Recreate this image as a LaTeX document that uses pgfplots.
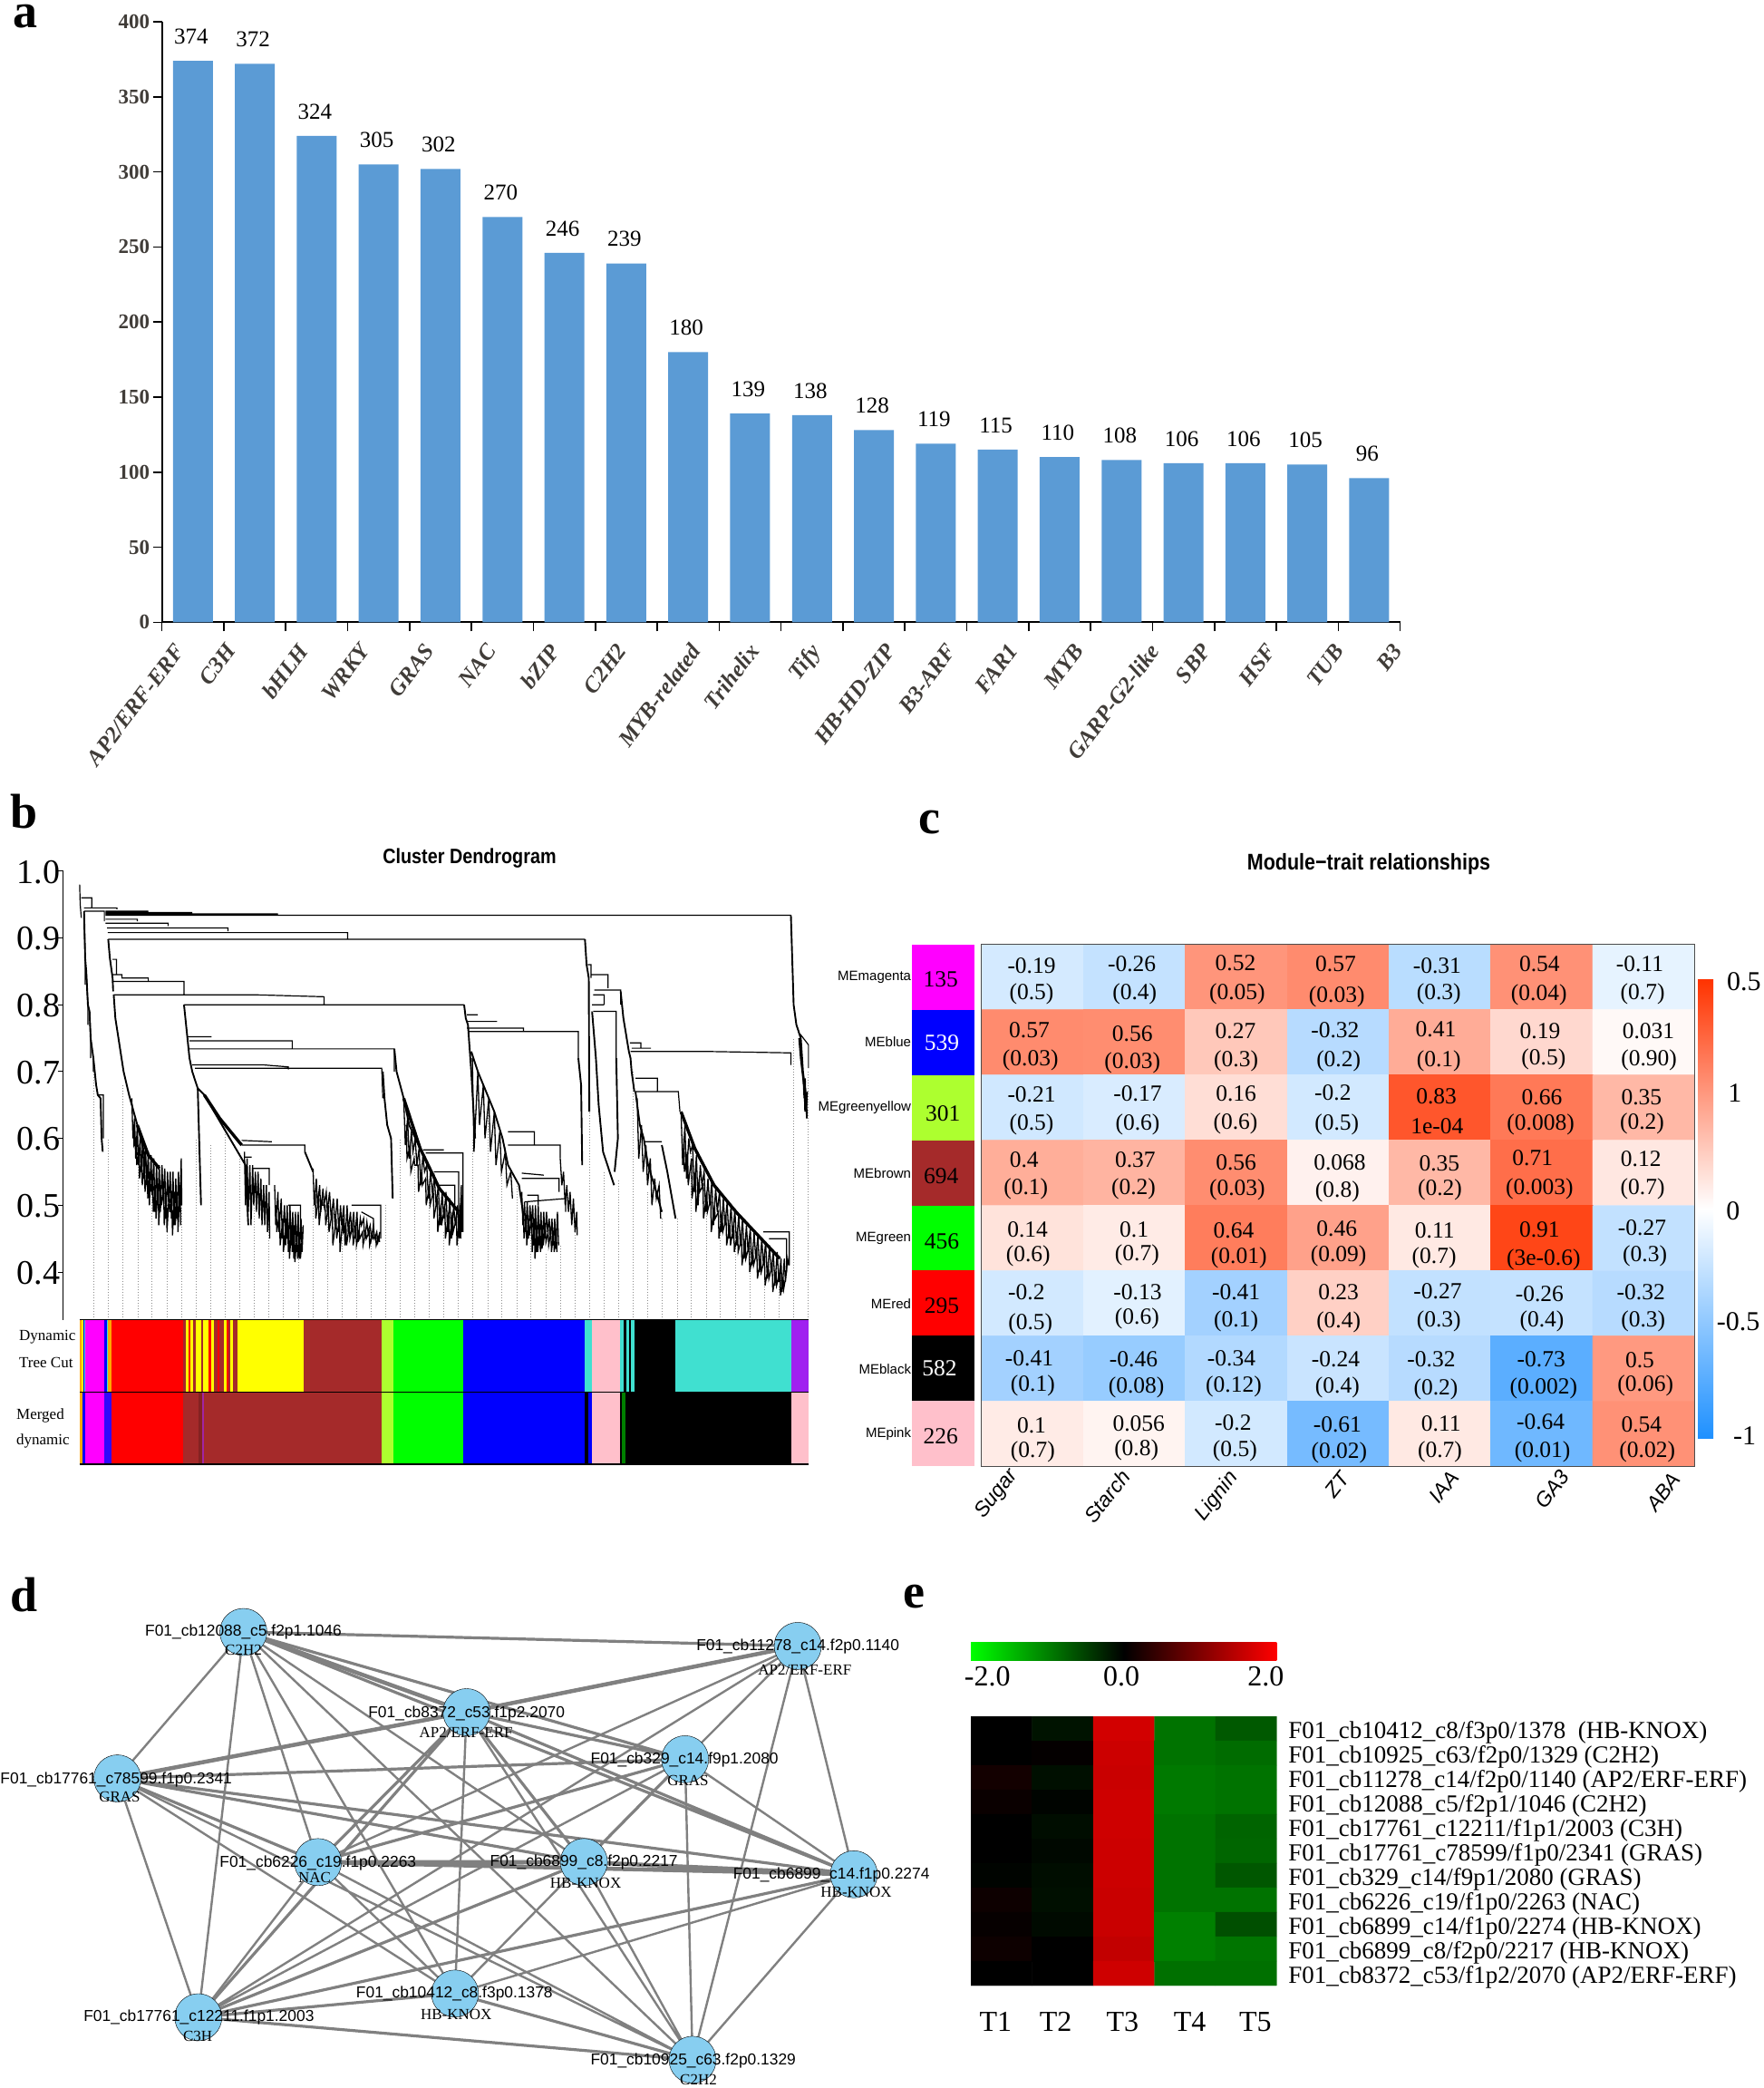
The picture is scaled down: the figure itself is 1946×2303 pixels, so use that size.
\documentclass[border=0pt]{standalone}
\usepackage{fontspec}
\setmainfont{Liberation Serif}
\setsansfont{Liberation Sans}
\usepackage{graphicx}
\usepackage{pgfplots}
\pgfplotsset{compat=1.18}
\newcommand\fs[1]{\fontsize{#1}{#1}\selectfont}
\definecolor{barblue}{RGB}{91,155,213}
\definecolor{nodeblue}{RGB}{135,206,240}
\definecolor{edgegray}{RGB}{128,128,128}
\definecolor{brownr}{RGB}{165,42,42}
\definecolor{gyel}{RGB}{173,255,47}
\definecolor{pinkr}{RGB}{255,192,203}
\definecolor{turq}{RGB}{64,224,208}
\definecolor{purp}{RGB}{160,32,240}
\definecolor{darkt}{RGB}{64,60,56}
\definecolor{cbblue}{RGB}{30,144,255}
\definecolor{cbred}{RGB}{255,51,0}
\definecolor{magentar}{RGB}{255,0,255}
\definecolor{yellowr}{RGB}{255,255,0}
\definecolor{oranger}{RGB}{255,165,0}
\newcommand\Seg[5]{\addplot[fill=#1,draw=none,forget plot] coordinates {(#2,#4)(#3,#4)(#3,#5)(#2,#5)} -- cycle;}
\newcommand\T[3]{\node at (#1,#2) {#3};}
\begin{document}
\begin{tikzpicture}[x=1pt,y=1pt]
\path (0,0) rectangle (1946,-2303);
% ---------- panel letters
\begin{scope}[every node/.style={anchor=base west,inner sep=0pt,font=\fs{54}\bfseries}]
\node at (14,-30) {a};
\node at (11,-913) {b};
\node at (1013,-919) {c};
\node at (11,-1777) {d};
\node at (996,-1773) {e};
\end{scope}
% ---------- panel a
\begin{axis}[at={(178.6pt,-686.3pt)},anchor=south west,scale only axis,
  width=1366pt,height=662.3pt,xmin=0,xmax=20,ymin=0,ymax=400,
  axis x line=bottom,axis y line=left,axis line style={-,line width=2pt},
  ytick={0,50,...,400},
  xtick={0,1,...,20},xticklabels={},
  extra x ticks={0.03,.86,2.03,3.03,4.07,5.07,6.09,7.18,8.37,9.31,10.29,11.52,12.5,13.5,14.56,15.78,16.61,17.67,18.76,19.71},
  extra x tick labels={AP2/ERF-ERF,C3H,bHLH,WRKY,GRAS,NAC,bZIP,C2H2,MYB-related,Trihelix,Tify,HB-HD-ZIP,B3-ARF,FAR1,MYB,GARP-G2-like,SBP,HSF,TUB,B3},
  extra x tick style={major tick length=0pt,xticklabel style={rotate=53,anchor=north east,font=\fs{25}\bfseries\itshape,text=darkt,xshift=-8pt,yshift=-18pt}},
  tick style={line width=1.6pt,black},major tick length=10pt,
  tick align=outside,
  yticklabel style={font=\fs{23}\bfseries,text=darkt},
  /pgf/number format/assume math mode=true,
  clip=false]
\addplot[ybar,bar width=44pt,bar shift=0pt,fill=barblue,draw=none,
  nodes near coords,
  every node near coord/.style={font=\fs{25},text=black,anchor=south,yshift=15pt,xshift=-2pt,/pgf/number format/assume math mode=true}]
 coordinates {(0.5,374)(1.5,372)(2.5,324)(3.5,305)(4.5,302)(5.5,270)(6.5,246)(7.5,239)(8.5,180)(9.5,139)(10.5,138)(11.5,128)(12.5,119)(13.5,115)(14.5,110)(15.5,108)(16.5,106)(17.5,106)(18.5,105)(19.5,96)};
\end{axis}
% ---------- panel b dendrogram
\node[font=\sffamily\fs{23}\bfseries] at (518,-947) {\scalebox{0.86}[1]{Cluster Dendrogram}};
\begin{axis}[at={(69.7pt,-1455.7pt)},anchor=south west,scale only axis,
  width=824pt,height=494.9pt,xmin=115,xmax=1475,ymin=0.3285,ymax=1.0,
  axis x line=none,axis y line=left,axis line style={-,line width=1pt},
  ytick={0.4,0.5,...,1.0},yticklabel style={font=\fs{38},xshift=6pt,yshift=-1pt,/pgf/number format/fixed,/pgf/number format/fixed zerofill,/pgf/number format/precision=1,/pgf/number format/assume math mode=true},
  tick style={black,line width=1pt},major tick length=6pt,tick align=outside,
  unbounded coords=jump,clip=false]
% dotted guides
\addplot[ycomb,gray!90,dotted,line width=1pt,no marks,forget plot] coordinates {
(171,.70)(198,.60)(224,.68)(251,.59)(277,.52)(304,.50)(331,.50)(357,.60)(384,.59)(410,.62)(437,.58)(463,.53)(490,.48)(516,.47)(543,.42)(570,.50)(596,.49)(623,.46)(649,.44)(676,.45)(702,.50)(729,.60)(755,.58)(782,.51)(808,.46)(835,.45)(861,.60)(888,.65)(914,.56)(941,.53)(967,.46)(994,.43)(1020,.44)(1047,.46)(1074,.64)(1100,.55)(1127,.54)(1153,.70)(1180,.52)(1206,.48)(1233,.48)(1259,.58)(1286,.52)(1312,.50)(1339,.48)(1365,.44)(1392,.40)(1418,.38)(1445,.75)(1472,.70)};
% tree structure
\addplot[black,line width=1.2pt,forget plot] coordinates {
(145,.98)(146,.95)(148,.93) (nan,nan)
(148,.96)(167,.96)(167,.945) (nan,nan)
(153,.945)(213,.945)(213,.943) (nan,nan)
(153,.94)(190,.94)(190,.925) (nan,nan)
(153,.94)(155,.87)(155,.83) (nan,nan)
(157,.85)(160,.80)(160,.77) (nan,nan)
(163,.79)(165,.75)(165,.72) (nan,nan)
(170,.72)(170,.70) (nan,nan)
(178,.665)(188,.665)(188,.60) (nan,nan)
(192,.94)(270,.94) (nan,nan)
(192,.938)(350,.938) (nan,nan)
(192,.936)(505,.936)(505,.934) (nan,nan)
(192,.934)(1440,.934) (nan,nan)
(192,.928)(250,.928)(250,.925) (nan,nan)
(192,.922)(306,.922)(306,.918) (nan,nan)
(195,.915)(415,.915)(415,.91) (nan,nan)
(196,.908)(633,.908)(633,.897) (nan,nan)
(197,.898)(1065,.898) (nan,nan)
(205,.868)(212,.868)(212,.845) (nan,nan)
(205,.845)(222,.845)(222,.84)(270,.84)(270,.835) (nan,nan)
(205,.835)(335,.835)(335,.815) (nan,nan)
(207,.815)(335,.815) (nan,nan)
(335,.815)(460,.815)(590,.812)(590,.80) (nan,nan)
(335,.80)(845,.80) (nan,nan)
(342,.752)(385,.752) (nan,nan)
(345,.746)(532,.746)(532,.735) (nan,nan)
(345,.734)(718,.734)(718,.70) (nan,nan)
(350,.71)(480,.71)(525,.707)(525,.703) (nan,nan)
(355,.705)(695,.705)(697,.66) (nan,nan)
(440,.59)(555,.59)(555,.58) (nan,nan)
(440,.597)(495,.595) (nan,nan)
(445,.572)(458,.572) (nan,nan)
(460,.555)(490,.555)(490,.53) (nan,nan)
(525,.50)(547,.50)(547,.46) (nan,nan)
(640,.50)(693,.50)(693,.45) (nan,nan)
(658,.49)(680,.48)(680,.46) (nan,nan)
(770,.583)(808,.583) (nan,nan)
(775,.578)(843,.578)(843,.46) (nan,nan)
(790,.55)(835,.55)(835,.47) (nan,nan)
(800,.53)(828,.53)(828,.50) (nan,nan)
(850,.785)(870,.785) (nan,nan)
(850,.775)(905,.775) (nan,nan)
(850,.765)(953,.765)(953,.76) (nan,nan)
(853,.76)(1053,.76)(1053,.72) (nan,nan)
(925,.61)(973,.61)(973,.59) (nan,nan)
(925,.59)(1020,.59)(1020,.57) (nan,nan)
(950,.548)(990,.545) (nan,nan)
(950,.54)(1018,.54)(1018,.52) (nan,nan)
(955,.505)(1030,.51)(1030,.49) (nan,nan)
(960,.515)(980,.515)(980,.50) (nan,nan)
(1070,.86)(1076,.86)(1076,.84) (nan,nan)
(1077,.845)(1107,.845)(1107,.825) (nan,nan)
(1082,.822)(1130,.822)(1130,.80) (nan,nan)
(1080,.815)(1100,.815)(1100,.80) (nan,nan)
(1078,.80)(1100,.80) (nan,nan)
(1080,.79)(1122,.79)(1122,.72) (nan,nan)
(1147,.743)(1167,.743)(1167,.735) (nan,nan)
(1150,.735)(1185,.735) (nan,nan)
(1148,.73)(1295,.73)(1440,.728)(1440,.71) (nan,nan)
(1157,.69)(1197,.69)(1197,.67) (nan,nan)
(1157,.67)(1235,.67)(1238,.64) (nan,nan)
(1172,.595)(1205,.595) (nan,nan)
(1390,.46)(1437,.46)(1437,.41) (nan,nan)
(1400,.45)(1432,.45)(1432,.40) (nan,nan)
(1457,.756)(1472,.74)(1472,.705)};
% long spines
\addplot[black,line width=1.9pt,forget plot] coordinates {
(153,.94)(155,.87)(157,.85)(160,.80)(163,.79)(165,.75)(170,.72)(175,.68)(178,.665)(183,.66)(185,.60)(187,.58) (nan,nan)
(197,.898)(200,.87)(205,.84)(206,.82) (nan,nan)
(207,.815)(210,.78)(225,.70)(235,.665)(250,.62)(262,.58)(270,.54) (nan,nan)
(335,.80)(340,.76)(345,.72)(350,.70)(360,.675)(366,.50) (nan,nan)
(360,.675)(372,.665)(447,.56)(452,.47) (nan,nan)
(555,.58)(570,.55) (nan,nan)
(697,.70)(700,.66)(705,.62)(712,.60)(715,.51) (nan,nan)
(718,.734)(722,.70)(735,.66)(745,.62)(765,.585) (nan,nan)
(845,.80)(848,.78)(852,.77)(855,.735)(858,.70)(865,.60) (nan,nan)
(858,.73)(870,.70)(885,.67)(900,.64)(915,.60)(925,.56)(945,.53)(952,.49) (nan,nan)
(1053,.72)(1058,.68)(1060,.56) (nan,nan)
(1065,.898)(1068,.86)(1072,.84)(1073,.64) (nan,nan)
(1078,.79)(1085,.72)(1090,.65)(1098,.58)(1118,.53) (nan,nan)
(1122,.72)(1125,.60)(1119,.55) (nan,nan)
(1130,.82)(1135,.78)(1145,.73)(1148,.72)(1150,.70)(1155,.67) (nan,nan)
(1157,.67)(1165,.62)(1172,.60)(1180,.56)(1195,.52)(1205,.49) (nan,nan)
(1205,.59)(1215,.55)(1230,.48) (nan,nan)
(1440,.934)(1445,.80)(1450,.77)(1458,.75)(1462,.70)(1468,.66)(1469,.63) (nan,nan)
(1455,.75)(1458,.72)(1465,.67)(1466,.64)};
\addplot[black,line width=3.4pt,forget plot] coordinates {
(372,.665)(400,.63)(440,.59) (nan,nan)
(1240,.64)(1265,.585)(1300,.53)(1340,.49)(1380,.455)(1420,.42) (nan,nan)
(735,.66)(765,.585)(800,.525)(835,.49) (nan,nan)
(250,.62)(270,.575)(290,.555)};
% fine branches
\addplot[black,line width=1.3pt,forget plot] coordinates {
(240,.66)(242,.60)(245,.63)(247,.57)(250,.62)(252,.56)(255,.60)(257,.55)(260,.60)(262,.54)(265,.585)(267,.53)(270,.58)(272,.50)(275,.575)(277,.515)(280,.57)(282,.49)(285,.56)(287,.50)(290,.56)(292,.49)(295,.56)(297,.51)(300,.555)(302,.48)(305,.55)(307,.50)(310,.55)(312,.48)(315,.55)(317,.47)(320,.54)(322,.48)(325,.55)(327,.49)(330,.57)(331,.50) (nan,nan)
(243,.62)(244,.59)(248,.60)(249,.56)(253,.58)(254,.54)(258,.57)(259,.53)(263,.56)(264,.52)(268,.55)(269,.51)(273,.55)(274,.52)(278,.54)(279,.49)(283,.53)(284,.48)(288,.53)(289,.47)(293,.53)(294,.50)(298,.52)(299,.47)(303,.52)(304,.46)(308,.52)(309,.49)(313,.51)(314,.455)(318,.52)(319,.47)(323,.52)(324,.46)(328,.53)(329,.47) (nan,nan)
(445,.58)(447,.50)(450,.57)(452,.49)(455,.56)(457,.47)(460,.56)(462,.50)(465,.55)(467,.49)(470,.55)(472,.48)(475,.54)(477,.47)(480,.53)(482,.47)(485,.53)(487,.46)(490,.52)(491,.45) (nan,nan)
(500,.53)(502,.47)(506,.52)(508,.46)(512,.51)(514,.45)(518,.50)(520,.44)(523,.50)(525,.43)(528,.50)(530,.44)(533,.49)(535,.42)(538,.49)(540,.43)(543,.49)(545,.42)(548,.48)(550,.43)(552,.47) (nan,nan)
(503,.50)(504,.46)(509,.49)(510,.44)(515,.48)(516,.43)(521,.48)(522,.45)(526,.47)(527,.42)(531,.47)(532,.43)(536,.47)(537,.415)(541,.46)(542,.42)(546,.46)(547,.42)(551,.46) (nan,nan)
(570,.555)(572,.50)(576,.54)(578,.50)(582,.53)(584,.49)(588,.525)(590,.50)(594,.52)(596,.49)(600,.52)(603,.48)(607,.51)(610,.47)(614,.51)(617,.46)(620,.50)(622,.47)(626,.50)(628,.44)(632,.50)(634,.46)(638,.49)(640,.46)(644,.49)(646,.45)(650,.49)(652,.445)(656,.48)(658,.47)(662,.48)(664,.45)(668,.475)(670,.46)(674,.47)(676,.45)(680,.47)(682,.45)(686,.46)(688,.445)(692,.46) (nan,nan)
(574,.52)(575,.48)(580,.51)(581,.47)(586,.51)(587,.50)(592,.50)(593,.47)(598,.50)(599,.46)(605,.49)(606,.44)(612,.48)(613,.45)(618,.48)(619,.43)(624,.48)(625,.46)(630,.47)(631,.44)(636,.47)(637,.45)(642,.47)(643,.44)(648,.47)(649,.44)(654,.46)(655,.45)(660,.46)(661,.44)(666,.46)(667,.45)(672,.46)(673,.44)(678,.46)(679,.45)(684,.455)(685,.44)(690,.455)(691,.445) (nan,nan)
(735,.66)(738,.59)(742,.63)(745,.57)(749,.61)(752,.58)(756,.60)(759,.56)(763,.585)(766,.53)(770,.575)(773,.55)(777,.56)(780,.51)(784,.55)(787,.52)(791,.54)(794,.50)(798,.53)(801,.47)(805,.52)(808,.48)(812,.52)(815,.46)(819,.51)(822,.45)(826,.50)(829,.47)(833,.50)(836,.45)(840,.53)(841,.46) (nan,nan)
(740,.62)(741,.57)(747,.59)(748,.55)(754,.57)(755,.56)(761,.56)(762,.52)(768,.55)(769,.53)(775,.54)(776,.50)(782,.53)(783,.50)(789,.52)(790,.48)(796,.51)(797,.46)(803,.50)(804,.47)(810,.50)(811,.45)(817,.49)(818,.44)(824,.49)(825,.46)(831,.48)(832,.44)(838,.50)(839,.45) (nan,nan)
(860,.72)(863,.58)(870,.70)(873,.62)(880,.68)(883,.60)(890,.66)(893,.58)(900,.64)(903,.56)(910,.61)(913,.55)(920,.58)(923,.53)(930,.55)(933,.51) (nan,nan)
(950,.52)(952,.47)(955,.505)(957,.46)(960,.505)(962,.45)(965,.50)(967,.47)(970,.50)(972,.44)(975,.50)(977,.43)(980,.50)(982,.44)(985,.49)(987,.435)(990,.49)(992,.45)(995,.49)(997,.46)(1000,.48)(1002,.45)(1005,.48)(1007,.44)(1010,.48)(1012,.435)(1015,.49)(1017,.44) (nan,nan)
(953,.49)(954,.45)(958,.48)(959,.44)(963,.48)(964,.455)(968,.48)(969,.43)(973,.48)(974,.42)(978,.47)(979,.43)(983,.47)(984,.43)(988,.47)(989,.44)(993,.47)(994,.445)(998,.46)(999,.44)(1003,.46)(1004,.43)(1008,.46)(1009,.43)(1013,.46)(1014,.43) (nan,nan)
(1020,.57)(1023,.53)(1026,.55)(1029,.50)(1032,.53)(1035,.49)(1038,.52)(1041,.47)(1044,.51)(1047,.46)(1050,.49)(1051,.455) (nan,nan)
(1160,.66)(1163,.57)(1168,.62)(1171,.55)(1176,.59)(1179,.53)(1184,.57)(1187,.50)(1192,.54)(1195,.51)(1200,.53)(1203,.48) (nan,nan)
(1240,.64)(1243,.56)(1247,.62)(1250,.54)(1254,.60)(1257,.58)(1261,.59)(1264,.52)(1268,.575)(1271,.50)(1275,.56)(1278,.53)(1282,.55)(1285,.49)(1289,.54)(1292,.50)(1296,.535)(1299,.47)(1303,.525)(1306,.49)(1310,.52)(1313,.46)(1317,.51)(1320,.47)(1324,.505)(1327,.45)(1331,.50)(1334,.45)(1338,.495)(1341,.44)(1345,.485)(1348,.44)(1352,.48)(1355,.42)(1359,.47)(1362,.43)(1366,.465)(1369,.41)(1373,.46)(1376,.42)(1380,.455)(1383,.40)(1387,.45)(1390,.41)(1394,.445)(1397,.39)(1401,.44)(1404,.40)(1408,.43)(1411,.38)(1415,.43)(1418,.385)(1422,.42)(1424,.37)(1428,.42)(1430,.385)(1434,.42)(1436,.41) (nan,nan)
(1245,.60)(1246,.55)(1252,.58)(1253,.53)(1259,.57)(1260,.51)(1266,.55)(1267,.49)(1273,.54)(1274,.52)(1280,.53)(1281,.48)(1287,.52)(1288,.49)(1294,.51)(1295,.46)(1301,.50)(1302,.48)(1308,.49)(1309,.45)(1315,.49)(1316,.46)(1322,.48)(1323,.44)(1329,.47)(1330,.44)(1336,.47)(1337,.43)(1343,.46)(1344,.43)(1350,.45)(1351,.41)(1357,.45)(1358,.42)(1364,.44)(1365,.40)(1371,.43)(1372,.41)(1378,.43)(1379,.39)(1385,.42)(1386,.40)(1392,.42)(1393,.38)(1399,.41)(1400,.39)(1406,.41)(1407,.37)(1413,.40)(1414,.38)(1420,.40)(1421,.365)(1426,.39)(1427,.375)(1432,.40) (nan,nan)
(1462,.70)(1464,.66)(1466,.69)(1468,.64)(1470,.67)};
\end{axis}
% colour rows of b
\begin{axis}[at={(69.7pt,-1615pt)},anchor=south west,scale only axis,
  width=824pt,height=159.3pt,xmin=115,xmax=1475,ymin=0,ymax=2,axis lines=none,clip=false,unbounded coords=jump]
\Seg{oranger}{145}{148}{1}{2}\Seg{yellowr}{148}{151}{1}{2}\Seg{blue}{151}{153}{1}{2}\Seg{turq}{153}{155}{1}{2}
\Seg{magentar}{155}{190}{1}{2}\Seg{blue}{190}{194}{1}{2}\Seg{turq}{194}{197}{1}{2}\Seg{oranger}{197}{203}{1}{2}
\Seg{red}{203}{333}{1}{2}
\Seg{brownr}{333}{338}{1}{2}\Seg{yellowr}{338}{343}{1}{2}\Seg{red}{343}{347}{1}{2}\Seg{yellowr}{347}{352}{1}{2}\Seg{brownr}{352}{356}{1}{2}\Seg{yellowr}{356}{366}{1}{2}\Seg{brownr}{366}{370}{1}{2}\Seg{yellowr}{370}{380}{1}{2}\Seg{red}{380}{384}{1}{2}\Seg{yellowr}{384}{390}{1}{2}\Seg{brownr}{390}{396}{1}{2}\Seg{red}{396}{400}{1}{2}\Seg{brownr}{400}{408}{1}{2}\Seg{yellowr}{408}{412}{1}{2}\Seg{red}{412}{416}{1}{2}\Seg{brownr}{416}{420}{1}{2}\Seg{yellowr}{420}{424}{1}{2}\Seg{brownr}{424}{432}{1}{2}
\Seg{yellowr}{432}{553}{1}{2}\Seg{brownr}{553}{694}{1}{2}\Seg{gyel}{694}{716}{1}{2}\Seg{green}{716}{843}{1}{2}\Seg{blue}{843}{1065}{1}{2}\Seg{turq}{1065}{1077}{1}{2}\Seg{pinkr}{1077}{1129}{1}{2}
\Seg{turq}{1129}{1136}{1}{2}\Seg{black}{1136}{1141}{1}{2}\Seg{turq}{1141}{1145}{1}{2}\Seg{black}{1145}{1148}{1}{2}\Seg{turq}{1148}{1156}{1}{2}\Seg{black}{1156}{1230}{1}{2}\Seg{turq}{1230}{1440}{1}{2}\Seg{purp}{1440}{1473}{1}{2}
\Seg{oranger}{145}{150}{0}{1}\Seg{blue}{150}{155}{0}{1}\Seg{magentar}{155}{190}{0}{1}\Seg{blue!70!purp}{190}{203}{0}{1}\Seg{red}{203}{333}{0}{1}\Seg{brownr}{333}{362}{0}{1}\Seg{brownr!80!black}{362}{368}{0}{1}\Seg{purp!60!brownr}{368}{372}{0}{1}\Seg{brownr}{372}{694}{0}{1}\Seg{gyel}{694}{716}{0}{1}\Seg{green}{716}{843}{0}{1}\Seg{blue}{843}{1065}{0}{1}\Seg{black}{1065}{1071}{0}{1}\Seg{blue}{1071}{1077}{0}{1}\Seg{pinkr}{1077}{1129}{0}{1}\Seg{black}{1129}{1133}{0}{1}\Seg{green!50!black}{1133}{1138}{0}{1}\Seg{black}{1138}{1440}{0}{1}\Seg{pinkr}{1440}{1473}{0}{1}
\addplot[black,line width=1.2pt,forget plot] coordinates {(145,2)(1473,2) (nan,nan) (145,1)(1473,1) (nan,nan) (145,0)(1473,0)};
\end{axis}
\begin{scope}[every node/.style={anchor=west,inner sep=0pt,font=\fs{17}}]
\node at (21,-1474.6) {Dynamic};
\node at (21,-1502.6) {Tree Cut};
\node at (18,-1561) {Merged};
\node at (18,-1589) {dynamic};
\end{scope}
% ---------- panel c
\node[font=\sffamily\fs{25}\bfseries] at (1510,-953) {\scalebox{0.86}[1]{Module−trait relationships}};
\begin{axis}[at={(1006pt,-1617.3pt)},anchor=south west,scale only axis,
  width=69pt,height=575.6pt,xmin=0,xmax=1,ymin=0,ymax=8,y dir=reverse,axis lines=none]
\Seg{magentar}{0}{1}{0}{1}\Seg{blue}{0}{1}{1}{2}\Seg{gyel}{0}{1}{2}{3}\Seg{brownr}{0}{1}{3}{4}\Seg{green}{0}{1}{4}{5}\Seg{red}{0}{1}{5}{6}\Seg{black}{0}{1}{6}{7}\Seg{pinkr}{0}{1}{7}{8}
\end{axis}
\begin{axis}[at={(1082.8pt,-1617.3pt)},anchor=south west,scale only axis,
  width=786.5pt,height=575.6pt,xmin=-0.5,xmax=6.5,ymin=-0.5,ymax=7.5,y dir=reverse,
  xtick=\empty,ytick=\empty,axis line style={draw=black!70,line width=1pt},axis on top,
  colormap={hm}{rgb255=(30,144,255) rgb255=(255,255,255) rgb255=(255,51,0)},
  point meta min=-1,point meta max=1]
\addplot[matrix plot*,mesh/cols=7,point meta=explicit] coordinates {
(0,0)[-0.19](1,0)[-0.26](2,0)[0.52](3,0)[0.57](4,0)[-0.31](5,0)[0.54](6,0)[-0.11]
(0,1)[0.57](1,1)[0.56](2,1)[0.27](3,1)[-0.32](4,1)[0.41](5,1)[0.19](6,1)[0.031]
(0,2)[-0.21](1,2)[-0.17](2,2)[0.16](3,2)[-0.2](4,2)[0.83](5,2)[0.66](6,2)[0.35]
(0,3)[0.4](1,3)[0.37](2,3)[0.56](3,3)[0.068](4,3)[0.35](5,3)[0.71](6,3)[0.12]
(0,4)[0.14](1,4)[0.1](2,4)[0.64](3,4)[0.46](4,4)[0.11](5,4)[0.91](6,4)[-0.27]
(0,5)[-0.2](1,5)[-0.13](2,5)[-0.41](3,5)[0.23](4,5)[-0.27](5,5)[-0.26](6,5)[-0.32]
(0,6)[-0.41](1,6)[-0.46](2,6)[-0.34](3,6)[-0.24](4,6)[-0.32](5,6)[-0.73](6,6)[0.5]
(0,7)[0.1](1,7)[0.056](2,7)[-0.2](3,7)[-0.61](4,7)[0.11](5,7)[-0.64](6,7)[0.54]};
\end{axis}
% colour bar c
\begin{axis}[at={(1873pt,-1586.6pt)},anchor=south west,scale only axis,width=17pt,height=506.6pt,
  xmin=0,xmax=1,ymin=0,ymax=1,axis lines=none]
\path[bottom color=cbblue,top color=cbred,middle color=white] (axis cs:0,0) rectangle (axis cs:1,1);
\end{axis}
\begin{scope}[shift={(950,-880)},x=0.6353pt,y=-0.5102pt,every node/.style={inner sep=0pt,font=\fs{25.5}}]
% row names
\begin{scope}[every node/.style={anchor=east,inner sep=0pt,font=\sffamily\fs{15}}]
\node at (87,388) {MEmagenta};\node at (87,528) {MEblue};\node at (87,670) {MEgreenyellow};\node at (87,811) {MEbrown};\node at (87,952) {MEgreen};\node at (87,1093) {MEred};\node at (87,1235) {MEblack};\node at (87,1376) {MEpink};
\end{scope}
\T{138}{393}{135}\T{140}{530}{\textcolor{white}{539}}\T{142}{682}{301}\T{139}{818}{694}\T{140}{958}{456}\T{140}{1098}{295}\T{136}{1233}{\textcolor{white}{582}}\T{138}{1380}{226}
\T{296}{363}{-0.19}\T{296}{424}{(0.5)}\T{470}{360}{-0.26}\T{475}{425}{(0.4)}\T{650}{358}{0.52}\T{653}{424}{(0.05)}\T{824}{360}{0.57}\T{826}{429}{(0.03)}\T{1000}{362}{-0.31}\T{1003}{425}{(0.3)}\T{1178}{360}{0.54}\T{1177}{426}{(0.04)}\T{1352}{360}{-0.11}\T{1357}{425}{(0.7)}
\T{292}{503}{0.57}\T{294}{567}{(0.03)}\T{471}{509}{0.56}\T{471}{573}{(0.03)}\T{650}{504}{0.27}\T{651}{570}{(0.3)}\T{823}{502}{-0.32}\T{829}{569}{(0.2)}\T{998}{500}{0.41}\T{1003}{569}{(0.1)}\T{1179}{505}{0.19}\T{1185}{565}{(0.5)}\T{1367}{504}{0.031}\T{1368}{568}{(0.90)}
\T{296}{641}{-0.21}\T{296}{707}{(0.5)}\T{480}{640}{-0.17}\T{480}{707}{(0.6)}\T{651}{640}{0.16}\T{650}{704}{(0.6)}\T{819}{638}{-0.2}\T{826}{706}{(0.5)}\T{999}{645}{0.83}\T{1000}{709}{1e-04}\T{1182}{647}{0.66}\T{1180}{707}{(0.008)}\T{1355}{648}{0.35}\T{1356}{705}{(0.2)}
\T{283}{782}{0.4}\T{286}{846}{(0.1)}\T{476}{782}{0.37}\T{473}{846}{(0.2)}\T{651}{788}{0.56}\T{653}{847}{(0.03)}\T{831}{789}{0.068}\T{827}{851}{(0.8)}\T{1004}{791}{0.35}\T{1005}{848}{(0.2)}\T{1166}{778}{0.71}\T{1178}{846}{(0.003)}\T{1354}{780}{0.12}\T{1357}{845}{(0.7)}
\T{289}{934}{0.14}\T{290}{991}{(0.6)}\T{474}{933}{0.1}\T{479}{988}{(0.7)}\T{647}{936}{0.64}\T{656}{994}{(0.01)}\T{826}{931}{0.46}\T{829}{991}{(0.09)}\T{996}{935}{0.11}\T{995}{994}{(0.7)}\T{1178}{933}{0.91}\T{1185}{998}{(3e-0.6)}\T{1356}{930}{-0.27}\T{1361}{991}{(0.3)}
\T{287}{1068}{-0.2}\T{294}{1138}{(0.5)}\T{480}{1068}{-0.13}\T{479}{1125}{(0.6)}\T{651}{1068}{-0.41}\T{651}{1132}{(0.1)}\T{829}{1068}{0.23}\T{829}{1133}{(0.4)}\T{1001}{1066}{-0.27}\T{1003}{1131}{(0.3)}\T{1178}{1072}{-0.26}\T{1182}{1131}{(0.4)}\T{1354}{1069}{-0.32}\T{1358}{1131}{(0.3)}
\T{292}{1211}{-0.41}\T{298}{1270}{(0.1)}\T{473}{1213}{-0.46}\T{478}{1275}{(0.08)}\T{643}{1212}{-0.34}\T{647}{1273}{(0.12)}\T{824}{1214}{-0.24}\T{827}{1274}{(0.4)}\T{990}{1214}{-0.32}\T{998}{1278}{(0.2)}\T{1181}{1213}{-0.73}\T{1185}{1277}{(0.002)}\T{1352}{1216}{0.5}\T{1362}{1271}{(0.06)}
\T{296}{1357}{0.1}\T{298}{1413}{(0.7)}\T{482}{1353}{0.056}\T{478}{1410}{(0.8)}\T{646}{1351}{-0.2}\T{649}{1411}{(0.5)}\T{827}{1355}{-0.61}\T{830}{1416}{(0.02)}\T{1007}{1353}{0.11}\T{1005}{1414}{(0.7)}\T{1180}{1349}{-0.64}\T{1183}{1413}{(0.01)}\T{1355}{1355}{0.54}\T{1365}{1414}{(0.02)}
% colour bar labels
\begin{scope}[every node/.style={inner sep=0pt,font=\fs{30}}]
\T{1533}{397}{0.5}\T{1517}{638}{1}\T{1514}{893}{0}\T{1523}{1133}{-0.5}\T{1534}{1380}{-1}
\end{scope}
% trait names
\begin{scope}[every node/.style={inner sep=0pt,rotate=52,font=\sffamily\itshape\fs{23}}]
\T{236}{1505}{Sugar}\T{427}{1510}{Starch}\T{618}{1510}{Lignin}\T{826}{1485}{ZT}\T{1012}{1490}{IAA}\T{1200}{1495}{GA3}\T{1393}{1500}{ABA}
\end{scope}
\end{scope}
% ---------- panel d network
\begin{axis}[at={(0pt,-2303pt)},anchor=south west,scale only axis,
  width=1000pt,height=603pt,xmin=0,xmax=1568,ymin=0,ymax=1568,y dir=reverse,axis lines=none,unbounded coords=jump,clip=false]
\addplot[edgegray,line width=2.4pt,forget plot] coordinates {
(421,260)(203,680) (nan,nan) (421,260)(550,920) (nan,nan) (421,260)(1010,920) (nan,nan) (421,260)(343,1365) (nan,nan) (421,260)(787,1297) (nan,nan) (421,260)(1198,1487) (nan,nan)
(1380,300)(1185,625) (nan,nan) (1380,300)(550,920) (nan,nan) (1380,300)(1477,955) (nan,nan) (1380,300)(343,1365) (nan,nan) (1380,300)(1198,1487) (nan,nan)
(807,490)(787,1297) (nan,nan) (807,490)(1198,1487) (nan,nan)
(203,680)(343,1365) (nan,nan) (203,680)(787,1297) (nan,nan) (203,680)(1198,1487) (nan,nan)
(1185,625)(1477,955) (nan,nan) (1185,625)(343,1365) (nan,nan) (1185,625)(1198,1487) (nan,nan)
(550,920)(343,1365) (nan,nan) (550,920)(787,1297) (nan,nan) (550,920)(1198,1487) (nan,nan)
(1010,920)(787,1297) (nan,nan) (1010,920)(1198,1487) (nan,nan)
(1477,955)(787,1297) (nan,nan) (1477,955)(1198,1487)};
\addplot[edgegray,line width=3.2pt,forget plot] coordinates {
(421,260)(1380,300) (nan,nan) (421,260)(1185,625) (nan,nan) (421,260)(1477,955) (nan,nan)
(807,490)(1185,625) (nan,nan) (807,490)(550,920) (nan,nan) (807,490)(1010,920) (nan,nan) (807,490)(1477,955) (nan,nan) (807,490)(343,1365) (nan,nan)
(203,680)(1185,625) (nan,nan) (203,680)(550,920) (nan,nan) (203,680)(1010,920) (nan,nan) (203,680)(1477,955) (nan,nan)
(1185,625)(550,920) (nan,nan) (1185,625)(1010,920) (nan,nan)
(1010,920)(343,1365) (nan,nan) (1477,955)(343,1365) (nan,nan)
(343,1365)(787,1297) (nan,nan) (343,1365)(1198,1487) (nan,nan) (787,1297)(1198,1487)};
\addplot[edgegray,line width=4.5pt,forget plot] coordinates {
(421,260)(807,490) (nan,nan) (1380,300)(807,490) (nan,nan) (807,490)(203,680) (nan,nan) (550,920)(1010,920) (nan,nan) (550,920)(1477,955) (nan,nan) (1010,920)(1477,955)};
\addplot[only marks,mark=*,mark size=26pt,mark options={fill=nodeblue,draw=none},forget plot] coordinates {
(421,260)(1380,300)(807,490)(203,680)(1185,625)(550,920)(1010,920)(1477,955)(343,1365)(787,1297)(1198,1487)};
\end{axis}
\begin{scope}[shift={(0,-1700)},x=0.6378pt,y=-0.3846pt]
\begin{scope}[every node/.style={inner sep=0pt,font=\sffamily\fs{17.4}}]
\T{421}{260}{F01\_cb12088\_c5.f2p1.1046}\T{1380}{302}{F01\_cb11278\_c14.f2p0.1140}\T{807}{493}{F01\_cb8372\_c53.f1p2.2070}\T{1184}{627}{F01\_cb329\_c14.f9p1.2080}\T{201}{683}{F01\_cb17761\_c78599.f1p0.2341}\T{550}{922}{F01\_cb6226\_c19.f1p0.2263}\T{1010}{921}{F01\_cb6899\_c8.f2p0.2217}\T{1438}{957}{F01\_cb6899\_c14.f1p0.2274}\T{786}{1297}{F01\_cb10412\_c8.f3p0.1378}\T{344}{1366}{F01\_cb17761\_c12211.f1p1.2003}\T{1199}{1490}{F01\_cb10925\_c63.f2p0.1329}
\end{scope}
\begin{scope}[every node/.style={inner sep=0pt,font=\fs{17}}]
\T{421}{312}{C2H2}\T{1392}{368}{AP2/ERF-ERF}\T{806}{548}{AP2/ERF-ERF}\T{1190}{685}{GRAS}\T{207}{732}{GRAS}\T{544}{965}{NAC}\T{1013}{980}{HB-KNOX}\T{1481}{1005}{HB-KNOX}\T{789}{1358}{HB-KNOX}\T{342}{1420}{C3H}\T{1208}{1543}{C2H2}
\end{scope}
\end{scope}
% ---------- panel e
\begin{axis}[at={(1071.2pt,-2190pt)},anchor=south west,scale only axis,
  width=337.2pt,height=297pt,xmin=-0.5,xmax=4.5,ymin=-0.5,ymax=10.5,y dir=reverse,axis lines=none,
  colormap={gbr}{rgb255=(0,255,0) rgb255=(0,0,0) rgb255=(255,0,0)},
  point meta min=-2,point meta max=2]
\addplot[matrix plot*,mesh/cols=5,point meta=explicit] coordinates {
(0,0)[0.0](1,0)[-0.15](2,0)[1.65](3,0)[-0.9](4,0)[-0.7]
(0,1)[0.0](1,1)[0.03](2,1)[1.6](3,1)[-0.9](4,1)[-0.85]
(0,2)[0.15](1,2)[-0.12](2,2)[1.58](3,2)[-0.95](4,2)[-0.9]
(0,3)[0.08](1,3)[-0.03](2,3)[1.62](3,3)[-0.95](4,3)[-0.9]
(0,4)[0.0](1,4)[-0.1](2,4)[1.62](3,4)[-0.9](4,4)[-0.78]
(0,5)[0.0](1,5)[-0.06](2,5)[1.6](3,5)[-0.9](4,5)[-0.8]
(0,6)[-0.03](1,6)[-0.1](2,6)[1.6](3,6)[-0.9](4,6)[-0.68]
(0,7)[0.1](1,7)[-0.12](2,7)[1.58](3,7)[-0.9](4,7)[-0.9]
(0,8)[0.05](1,8)[-0.08](2,8)[1.58](3,8)[-1.0](4,8)[-0.62]
(0,9)[0.1](1,9)[0.0](2,9)[1.52](3,9)[-1.0](4,9)[-0.92]
(0,10)[0.0](1,10)[0.0](2,10)[1.62](3,10)[-0.88](4,10)[-0.88]};
\end{axis}
\begin{axis}[at={(1071.2pt,-1831pt)},anchor=south west,scale only axis,width=337.2pt,height=20pt,
  xmin=-2,xmax=2,ymin=0,ymax=1,axis lines=none]
\path[left color=green,right color=red,middle color=black] (axis cs:-2,0) rectangle (axis cs:2,1);
\end{axis}
\begin{scope}[shift={(1000,-1720)},x=0.6033pt,y=-0.3571pt]
\begin{scope}[every node/.style={inner sep=0pt,font=\fs{32}}]
\T{148}{362}{-2.0}\T{393}{362}{0.0}\T{657}{362}{2.0}
\T{163}{1428}{T1}\T{273}{1428}{T2}\T{395}{1428}{T3}\T{518}{1428}{T4}\T{638}{1428}{T5}
\end{scope}
\begin{scope}[every node/.style={inner sep=0pt,anchor=west,font=\fs{27}}]
\node at (698,535) {F01\_cb10412\_c8/f3p0/1378\ \ (HB-KNOX)};
\node at (698,610) {F01\_cb10925\_c63/f2p0/1329 (C2H2)};
\node at (698,686) {F01\_cb11278\_c14/f2p0/1140 (AP2/ERF-ERF)};
\node at (698,762) {F01\_cb12088\_c5/f2p1/1046 (C2H2)};
\node at (698,838) {F01\_cb17761\_c12211/f1p1/2003 (C3H)};
\node at (698,912) {F01\_cb17761\_c78599/f1p0/2341 (GRAS)};
\node at (698,988) {F01\_cb329\_c14/f9p1/2080 (GRAS)};
\node at (698,1063) {F01\_cb6226\_c19/f1p0/2263 (NAC)};
\node at (698,1140) {F01\_cb6899\_c14/f1p0/2274 (HB-KNOX)};
\node at (698,1215) {F01\_cb6899\_c8/f2p0/2217 (HB-KNOX)};
\node at (698,1290) {F01\_cb8372\_c53/f1p2/2070 (AP2/ERF-ERF)};
\end{scope}
\end{scope}
\end{tikzpicture}
\end{document}
